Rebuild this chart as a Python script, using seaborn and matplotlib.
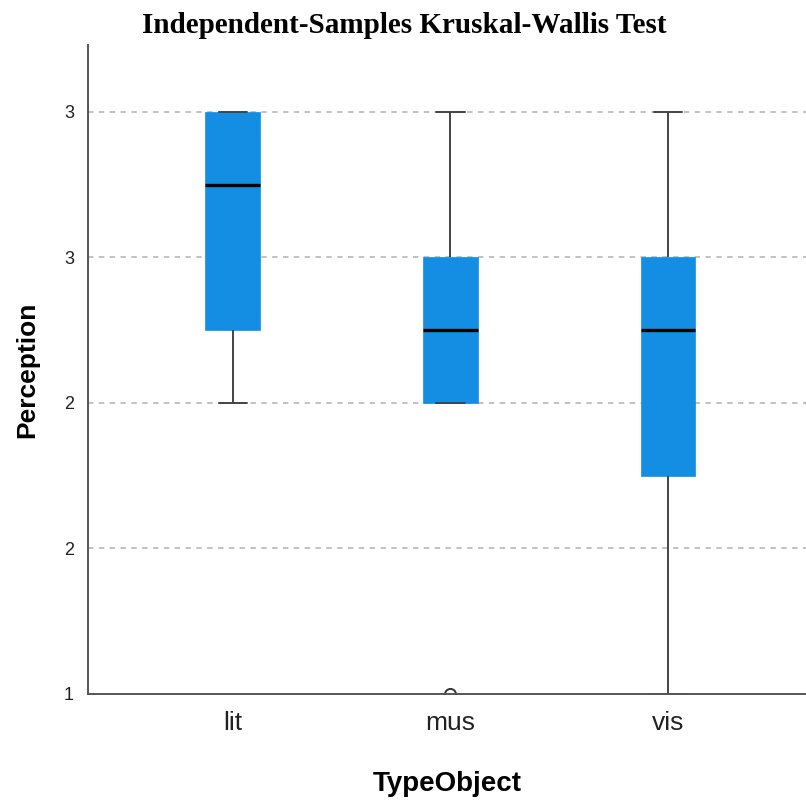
import numpy as np
import pandas as pd
import matplotlib
matplotlib.use("Agg")
import matplotlib.pyplot as plt
import seaborn as sns

# Perception scores per object type
TYPE_ORDER = ["lit", "mus", "vis"]
LIT_VALUES = [2.0, 2.25, 2.25, 2.75, 3.0, 3.0, 3.0]
MUS_VALUES = [1.0, 2.0, 2.0, 2.25, 2.5, 2.5, 3.0]
VIS_VALUES = [1.0, 1.5, 2.0, 2.25, 2.5, 2.5, 3.0]

Y_TICKS = [1.0, 1.5, 2.0, 2.5, 3.0]
Y_TICK_LABELS = ["1", "2", "2", "3", "3"]
GRID_LEVELS = [1.5, 2.0, 2.5, 3.0]

BOX_COLOUR = "#148ee3"
LINE_COLOUR = "#444444"

df = pd.DataFrame(
    {
        "TypeObject": ["lit"] * len(LIT_VALUES)
        + ["mus"] * len(MUS_VALUES)
        + ["vis"] * len(VIS_VALUES),
        "Perception": LIT_VALUES + MUS_VALUES + VIS_VALUES,
    }
)

sns.set_style("white")
plt.rcParams["font.family"] = ["Liberation Sans", "DejaVu Sans"]

fig = plt.figure(figsize=(8.06, 8.0), dpi=100)
ax = fig.add_axes([0.109, 0.1325, 0.891, 0.8115])

for lvl in GRID_LEVELS:
    ax.axhline(lvl, color="#bdbdbd", lw=1.3, ls=(0, (3, 3)), zorder=0)

sns.boxplot(
    data=df,
    x="TypeObject",
    y="Perception",
    order=TYPE_ORDER,
    color=BOX_COLOUR,
    width=0.25,
    whis=1.5,
    ax=ax,
    boxprops=dict(facecolor=BOX_COLOUR, edgecolor=BOX_COLOUR, linewidth=0.5, zorder=2),
    whiskerprops=dict(color=LINE_COLOUR, linewidth=1.4),
    capprops=dict(color=LINE_COLOUR, linewidth=1.4),
    medianprops=dict(color="black", linewidth=2.4, zorder=3),
    flierprops=dict(marker="o", markersize=8, markerfacecolor="none",
                    markeredgecolor="#333333", markeredgewidth=1.4),
    capwidths=0.13,
)

ax.set_ylim(1.0, 3.23)
ax.set_xlim(-0.665, 2.633)
ax.set_yticks(Y_TICKS)
ax.set_yticklabels(Y_TICK_LABELS)
ax.tick_params(axis="y", length=0, pad=10, labelsize=13, labelcolor="#222222")
ax.tick_params(axis="x", length=0, pad=12, labelsize=19, labelcolor="#222222")

for side in ["top", "right"]:
    ax.spines[side].set_visible(False)
for side in ["left", "bottom"]:
    ax.spines[side].set_color("#555555")
    ax.spines[side].set_linewidth(1.4)

ax.set_xlabel("TypeObject", fontsize=20, fontweight="bold", labelpad=26, color="black")
ax.set_ylabel("Perception", fontsize=19, fontweight="bold", labelpad=18, color="black")

fig.text(
    0.502,
    1 - 33 / 800,
    "Independent-Samples Kruskal-Wallis Test",
    family="Liberation Serif",
    fontweight="bold",
    fontsize=21,
    ha="center",
    va="baseline",
    color="black",
)

fig.savefig("out.png", dpi=100)
